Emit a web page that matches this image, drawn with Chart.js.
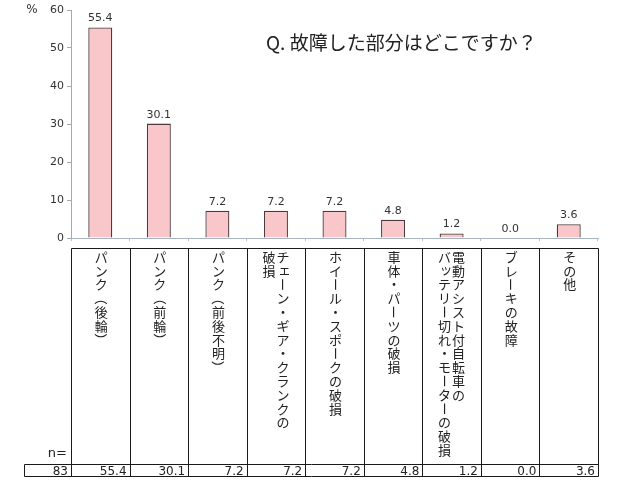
<!DOCTYPE html>
<html><head><meta charset="utf-8">
<script src="https://cdn.jsdelivr.net/npm/chart.js@4/dist/chart.umd.min.js"></script>
<style>html,body{margin:0;padding:0;background:#fff}canvas{display:block}</style>
</head><body>
<canvas id="c" width="640" height="480"></canvas>
<script>
// ---- data ----
const categories = [
  'パンク（後輪）',
  'パンク（前輪）',
  'パンク（前後不明）',
  'チェーン・ギア・クランクの\n破損',
  'ホイール・スポークの破損',
  '車体・パーツの破損',
  '電動アシスト付自転車の\nバッテリー切れ・モーターの破損',
  'ブレーキの故障',
  'その他'
];
const values = [55.4, 30.1, 7.2, 7.2, 7.2, 4.8, 1.2, 0.0, 3.6];
const yTicks = [0, 10, 20, 30, 40, 50, 60];
const nTotal = 83;
const titleText = 'Q. 故障した部分はどこですか？';
const unitText = '%';
const nLabel = 'n=';

const JP = '"Noto Sans CJK JP", "Noto Sans", sans-serif';
const NUM = '"DejaVu Sans", sans-serif';
const rotateChars = new Set(['ー', '（', '）', '－', '〜']);
const smallKana = new Set(['ッ','ャ','ュ','ョ','ァ','ィ','ゥ','ェ','ォ','っ','ゃ','ゅ','ょ']);

function drawVertical(ctx, text, cx, top, step) {
  const chars = Array.from(text);
  chars.forEach((ch, i) => {
    const cy = top + step * i + step / 2;
    ctx.save();
    ctx.translate(cx, cy);
    if (rotateChars.has(ch)) ctx.rotate(Math.PI / 2);
    if (smallKana.has(ch)) ctx.translate(1.5, -1.5);
    ctx.fillText(ch, 0, 0);
    ctx.restore();
  });
}

const overlay = {
  id: 'overlay',
  afterDraw(chart) {
    const ctx = chart.ctx;
    const xs = chart.scales.x;
    const ca = chart.chartArea;
    const n = categories.length;
    const step = xs.getPixelForValue(1) - xs.getPixelForValue(0);
    const bounds = [];
    for (let i = 0; i <= n; i++) bounds.push(xs.getPixelForValue(0) - step / 2 + step * i);

    ctx.save();
    // title
    ctx.fillStyle = '#222';
    ctx.font = '19px ' + JP;
    ctx.textAlign = 'left';
    ctx.textBaseline = 'middle';
    ctx.fillText(titleText, 266, 43);
    // unit
    ctx.font = '12px ' + NUM;
    ctx.fillStyle = '#333';
    ctx.textAlign = 'center';
    ctx.fillText(unitText, 32, 10);

    // value labels
    const meta = chart.getDatasetMeta(0);
    ctx.font = '11px ' + NUM;
    ctx.textBaseline = 'alphabetic';
    ctx.fillStyle = '#333';
    meta.data.forEach((bar, i) => {
      ctx.fillText(values[i].toFixed(1), bar.x, bar.y - 6);
    });

    // table lines
    const tTop = 248, rTop = 464, rBot = 476, nLeft = 24;
    ctx.strokeStyle = '#1a1a1a';
    ctx.lineWidth = 1;
    ctx.beginPath();
    const L = Math.round(bounds[0]) + 0.5, R = Math.round(bounds[n]) + 0.5;
    ctx.moveTo(L, tTop + 0.5); ctx.lineTo(R, tTop + 0.5);
    ctx.moveTo(nLeft + 0.5, rTop + 0.5); ctx.lineTo(R, rTop + 0.5);
    ctx.moveTo(nLeft + 0.5, rBot + 0.5); ctx.lineTo(R, rBot + 0.5);
    ctx.moveTo(nLeft + 0.5, rTop + 0.5); ctx.lineTo(nLeft + 0.5, rBot + 0.5);
    bounds.forEach(b => {
      const bx = Math.round(b) + 0.5;
      ctx.moveTo(bx, tTop + 0.5); ctx.lineTo(bx, rBot + 0.5);
    });
    ctx.stroke();

    // vertical category labels
    ctx.fillStyle = '#222';
    ctx.font = '13px ' + JP;
    ctx.textAlign = 'center';
    ctx.textBaseline = 'middle';
    categories.forEach((lab, i) => {
      const cx = (bounds[i] + bounds[i + 1]) / 2;
      const cols = lab.split('\n');
      if (cols.length === 1) {
        drawVertical(ctx, cols[0], cx + 1, 250, 13.8);
      } else {
        drawVertical(ctx, cols[0], cx + 7, 250, 13.8);
        drawVertical(ctx, cols[1], cx - 7, 250, 13.8);
      }
    });

    // n row
    ctx.font = '13px ' + NUM;
    ctx.textAlign = 'right';
    ctx.textBaseline = 'alphabetic';
    ctx.fillStyle = '#222';
    ctx.fillText(nLabel, 67, 457);
    ctx.font = '12px ' + NUM;
    ctx.fillText(String(nTotal), bounds[0] - 3, 475);
    values.forEach((v, i) => {
      ctx.fillText(v.toFixed(1), bounds[i + 1] - 3, 475);
    });
    ctx.restore();
  }
};

new Chart(document.getElementById('c'), {
  type: 'bar',
  data: {
    labels: categories,
    datasets: [{
      data: values,
      backgroundColor: '#F9C6C9',
      borderColor: '#4a3c3e',
      borderWidth: 1.3,
      barPercentage: 0.41,
      categoryPercentage: 1.0
    }]
  },
  options: {
    responsive: false,
    animation: false,
    layout: { padding: { left: 0, right: 42, top: 10, bottom: 238 } },
    plugins: { legend: { display: false }, tooltip: { enabled: false }, title: { display: false } },
    scales: {
      x: {
        ticks: { display: false },
        grid: { display: true, drawOnChartArea: false, offset: true, tickLength: 3, color: '#b8c0c8' },
        border: { color: '#a8b4c0' },
        afterFit: s => { s.height = 4; }
      },
      y: {
        min: 0, max: 60,
        afterBuildTicks: s => { s.ticks = yTicks.map(v => ({ value: v })); },
        ticks: { color: '#333', font: { family: '"DejaVu Sans", sans-serif', size: 11 }, padding: 3 },
        grid: { drawOnChartArea: false, tickLength: 4, color: '#a8a8a8' },
        border: { color: '#a8a8a8' },
        afterFit: s => { s.width = 71; }
      }
    }
  },
  plugins: [overlay]
});
</script>
</body></html>
